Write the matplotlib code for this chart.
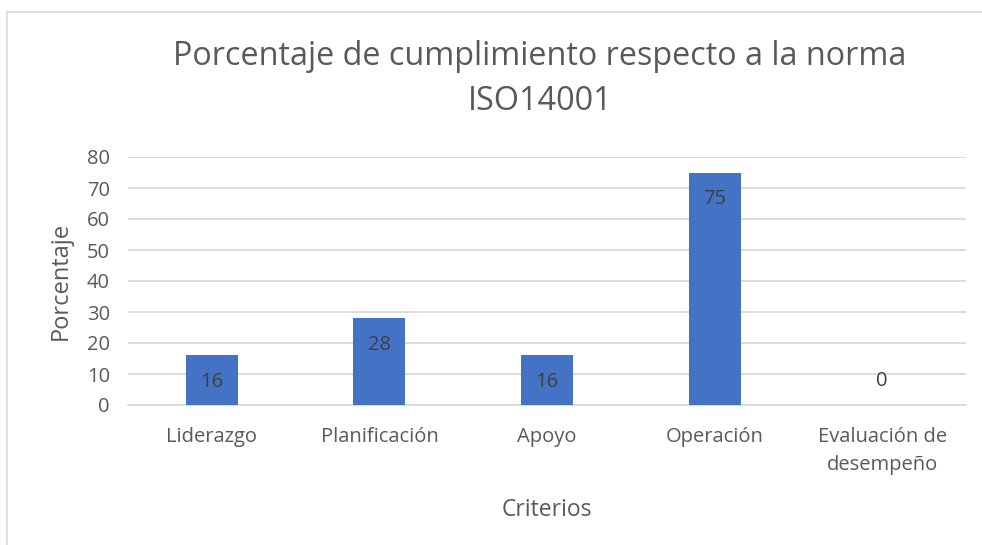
import matplotlib
matplotlib.use("Agg")
import matplotlib.pyplot as plt
from matplotlib.lines import Line2D

categories = ["Liderazgo", "Planificación", "Apoyo", "Operación", "Evaluación de\ndesempeño"]
values = [16, 28, 16, 75, 0]
yticks = [0, 10, 20, 30, 40, 50, 60, 70, 80]

plt.rcParams['font.family'] = ['Open Sans', 'DejaVu Sans']
gray = '#595959'

fig = plt.figure(figsize=(9.82, 5.45), dpi=100)
ax = fig.add_axes([128/982, 1-405/545, (966-128)/982, (405-157)/545])

x = list(range(len(categories)))
bars = ax.bar(x, values, width=0.31, color='#4472c4', zorder=3)
ax.set_xlim(-0.5, len(categories)-0.5)
ax.set_ylim(0, 80)
ax.set_yticks(yticks)
ax.set_xticks(x)
ax.set_xticklabels(categories, fontsize=14.5, color=gray, linespacing=1.55)
ax.tick_params(axis='y', labelsize=14.5, labelcolor=gray, length=0, pad=13)
ax.tick_params(axis='x', length=0, pad=16)
ax.grid(axis='y', color='#d9d9d9', linewidth=1.3, zorder=0)
for s in ['top', 'right', 'left']:
    ax.spines[s].set_visible(False)
ax.spines['bottom'].set_color('#d9d9d9')
ax.spines['bottom'].set_linewidth(1.3)

for xi, v in zip(x, values):
    off = -19 if v > 0 else 17
    ax.annotate(str(v), (xi, v), xytext=(0, off), textcoords='offset points',
                ha='center', va='center', fontsize=14.5, color='#404040', zorder=4)

ax.set_ylabel("Porcentaje", fontsize=17, color=gray, labelpad=10)
ax.set_xlabel("Criterios", fontsize=16.5, color=gray, labelpad=16)

fig.text(540/982, 1-79/545, "Porcentaje de cumplimiento respecto a la norma\nISO14001",
         ha='center', va='center', fontsize=23.3, color=gray, linespacing=1.5)

# chart border
fig.add_artist(Line2D([7/982, 7/982], [0, 1-12/545], transform=fig.transFigure, color='#d9d9d9', lw=1.2))
fig.add_artist(Line2D([7/982, 1], [1-12/545, 1-12/545], transform=fig.transFigure, color='#d9d9d9', lw=1.2))

fig.savefig("out.png", dpi=100)
